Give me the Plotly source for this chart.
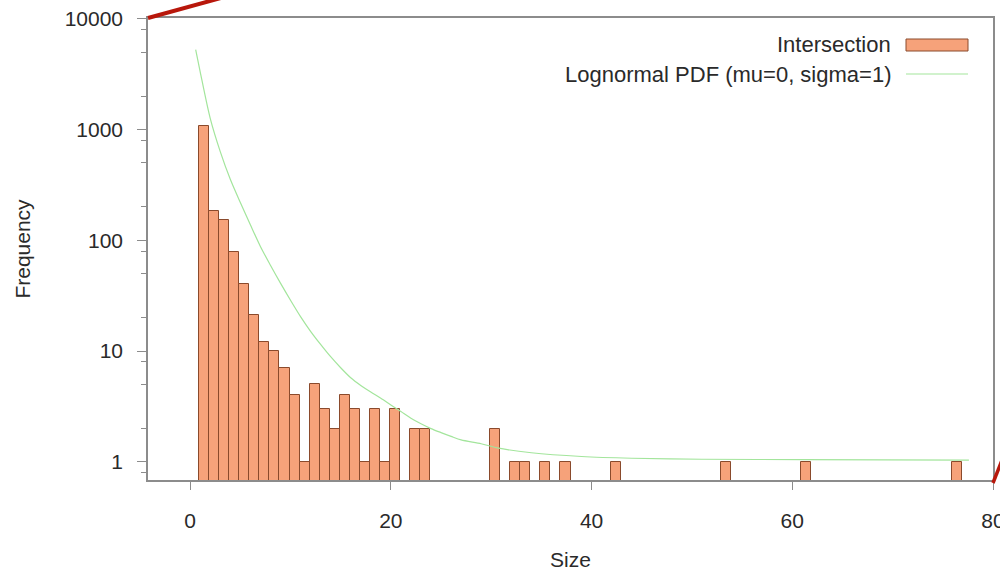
import plotly.graph_objects as go

# ---- data ----
sizes = [1, 2, 3, 4, 5, 6, 7, 8, 9, 10, 11, 12, 13, 14, 15, 16, 17, 18, 19, 20,
         22, 23, 30, 32, 33, 35, 37, 42, 53, 61, 76]
counts = [1066, 185, 151, 79, 40, 21, 12, 10, 7, 4, 1, 5, 3, 2, 4, 3, 1, 3, 1, 3,
          2, 2, 2, 1, 1, 1, 1, 1, 1, 1, 1]

curve_x = [0.55, 1.0, 2.0, 3.0, 4.0, 5.0, 6.0, 7.0, 8.0, 9.0, 10.0, 11.0, 12.0,
           13.0, 14.0, 15.0, 16.0, 17.0, 18.0, 19.0, 20.0, 21.0, 22.0, 23.0,
           24.0, 25.0, 26.0, 27.0, 29.0, 30.6, 34.0, 39.0, 44.0, 51.0, 61.0, 77.6]
curve_y = [5248, 3311, 1259, 631, 355, 219, 138, 88, 59.6, 41.1, 28.8, 20.5, 15.1,
           11.5, 8.9, 7.08, 5.75, 4.90, 4.27, 3.76, 3.27, 2.85, 2.48, 2.21,
           2.0, 1.84, 1.70, 1.58, 1.46, 1.34, 1.21, 1.12, 1.08, 1.057, 1.05, 1.04]

x_ticks = [0, 20, 40, 60, 80]
y_ticks = [1, 10, 100, 1000, 10000]
y_tick_labels = ["1", "10", "100", "1000", "10000"]
y_minor = [m * 10 ** k for k in range(-1, 4) for m in (2, 5, 8)]

series_names = ["Intersection", "Lognormal PDF (mu=0, sigma=1)"]

# ---- styles ----
BAR_FILL = "#F6A27A"
BAR_EDGE = "#8a4a2c"
CURVE = "#a3e59c"
AXIS = "#8c8c8c"
TEXT = "#2a2a2a"
FONT = "Liberation Sans, Arial, Helvetica, sans-serif"

fig = go.Figure()
fig.add_trace(go.Bar(
    x=sizes, y=counts, name=series_names[0],
    width=1, offset=-0.1,
    marker=dict(color=BAR_FILL, line=dict(color=BAR_EDGE, width=1)),
    showlegend=False,
))
fig.add_trace(go.Scatter(
    x=curve_x, y=curve_y, name=series_names[1], mode="lines",
    line=dict(color=CURVE, width=1.2, shape="spline", smoothing=0.8),
    showlegend=False,
))

fig.update_layout(
    width=1000, height=573,
    margin=dict(l=148, r=7, t=18, b=93),
    paper_bgcolor="white", plot_bgcolor="white",
    font=dict(family=FONT, size=21, color=TEXT),
    bargap=0,
    showlegend=False,
)
fig.update_xaxes(
    range=[-4.2, 80], tickvals=x_ticks, ticktext=[str(v) for v in x_ticks],
    ticks="outside", ticklen=8, tickcolor=AXIS, tickwidth=1.2,
    showline=True, linecolor=AXIS, linewidth=1.5, mirror=True,
    showgrid=False, zeroline=False, automargin=False,
    ticklabeloverflow="allow",
    ticklabelstandoff=13,
    title=dict(text="Size", standoff=21, font=dict(size=21)),
)
fig.update_yaxes(
    type="log", range=[-0.163, 4.006],
    tickvals=y_ticks, ticktext=y_tick_labels,
    ticks="outside", ticklen=9, tickcolor=AXIS, tickwidth=1.2,
    minor=dict(tickmode="array", tickvals=y_minor, ticks="outside",
               ticklen=5, tickcolor=AXIS, tickwidth=1, showgrid=False),
    showline=True, linecolor=AXIS, linewidth=1.5, mirror=True,
    showgrid=False, zeroline=False, automargin=False,
    ticklabeloverflow="allow",
    ticklabelstandoff=10,
    title=dict(text="Frequency", standoff=28, font=dict(size=21)),
)

# manual legend (text right-aligned, key on the right as in the reference)
def px_to_paper(px, py):
    return (px - 148) / 845, (480 - py) / 462

tx, ty1 = px_to_paper(893, 45)
_, ty2 = px_to_paper(893, 74)
fig.add_annotation(x=tx, y=ty1, xref="paper", yref="paper", text=series_names[0],
                   showarrow=False, xanchor="right", yanchor="middle",
                   font=dict(size=22, color=TEXT))
fig.add_annotation(x=tx, y=ty2, xref="paper", yref="paper", text=series_names[1],
                   showarrow=False, xanchor="right", yanchor="middle",
                   font=dict(size=22, color=TEXT))
sx0, sy0 = px_to_paper(906, 51)
sx1, sy1 = px_to_paper(968, 39)
fig.add_shape(type="rect", xref="paper", yref="paper", x0=sx0, x1=sx1, y0=sy0, y1=sy1,
              fillcolor=BAR_FILL, line=dict(color=BAR_EDGE, width=1))
lx0, ly = px_to_paper(906, 74)
lx1, _ = px_to_paper(968, 74)
fig.add_shape(type="line", xref="paper", yref="paper", x0=lx0, x1=lx1, y0=ly, y1=ly,
              line=dict(color=CURVE, width=1.2))

# red callout lines at the corners
a0, b0 = px_to_paper(148, 18)
a1, b1 = px_to_paper(250, -10)
fig.add_shape(type="line", xref="paper", yref="paper", x0=a0, y0=b0, x1=a1, y1=b1,
              line=dict(color="#b8170b", width=4))
c0, d0 = px_to_paper(993, 483)
c1, d1 = px_to_paper(1004, 455)
fig.add_shape(type="line", xref="paper", yref="paper", x0=c0, y0=d0, x1=c1, y1=d1,
              line=dict(color="#b8170b", width=3.5))

fig.write_html("out.html")
